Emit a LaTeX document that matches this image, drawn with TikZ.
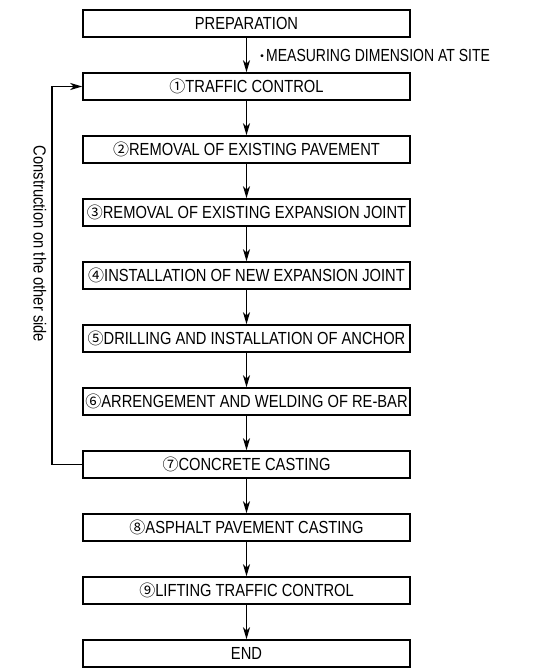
\documentclass[tikz,border=0pt]{standalone}
\usepackage{fontspec}
\setmainfont[FakeStretch=0.84]{Liberation Sans}
\newfontfamily\narrowfont[FakeStretch=0.8]{Liberation Sans}
\newfontfamily\cjk{Noto Sans CJK JP}
\usetikzlibrary{arrows.meta}
\newcommand{\cn}[1]{{\cjk\fontsize{16}{16}\selectfont #1}}
\tikzset{
  stepbox/.style={draw, line width=1.5pt, minimum width=327pt, minimum height=27pt, inner sep=0pt, font=\fontsize{17.5}{19}\selectfont, anchor=center},
  flow/.style={line width=1.5pt, -{Stealth[length=12pt,width=7pt,inset=3.5pt]}},
  lbl/.style={font=\fontsize{17.5}{19}\selectfont, inner sep=0pt}
}
\begin{document}
\begin{tikzpicture}[x=1pt,y=-1pt]
\useasboundingbox (0,0) rectangle (554,669);
\node[stepbox] (p)  at (246.5, 23.5) {PREPARATION};
\node[stepbox] (s1) at (246.5, 86.5) {\cn{①}TRAFFIC CONTROL};
\node[stepbox] (s2) at (246.5,149.5) {\cn{②}REMOVAL OF EXISTING PAVEMENT};
\node[stepbox] (s3) at (246.5,212.5) {\cn{③}REMOVAL OF EXISTING EXPANSION JOINT};
\node[stepbox] (s4) at (246.5,275.5) {\cn{④}INSTALLATION OF NEW EXPANSION JOINT};
\node[stepbox] (s5) at (246.5,338.5) {\cn{⑤}DRILLING AND INSTALLATION OF ANCHOR};
\node[stepbox] (s6) at (246.5,401.5) {\cn{⑥}ARRENGEMENT AND WELDING OF RE-BAR};
\node[stepbox] (s7) at (246.5,464.5) {\cn{⑦}CONCRETE CASTING};
\node[stepbox] (s8) at (246.5,527.5) {\cn{⑧}ASPHALT PAVEMENT CASTING};
\node[stepbox] (s9) at (246.5,590.5) {\cn{⑨}LIFTING TRAFFIC CONTROL};
\node[stepbox] (e)  at (246.5,653.5) {END};
\draw[flow] (p) -- (s1);
\draw[flow] (s1) -- (s2);
\draw[flow] (s2) -- (s3);
\draw[flow] (s3) -- (s4);
\draw[flow] (s4) -- (s5);
\draw[flow] (s5) -- (s6);
\draw[flow] (s6) -- (s7);
\draw[flow] (s7) -- (s8);
\draw[flow] (s8) -- (s9);
\draw[flow] (s9) -- (e);
\node[lbl, anchor=west] (m) at (255,55) {{\cjk\fontsize{14}{14}\selectfont ・}\kern-3pt{\narrowfont MEASURING DIMENSION AT SITE}};
\coordinate (lb) at (52,464.5);
\coordinate (lt) at (52,86.5);
\draw[flow] (s7.west) -- (lb) -- (lt) -- (s1.west);
\node[lbl, rotate=-90] (c) at (40,244) {Construction on the other side};
\end{tikzpicture}
\end{document}
